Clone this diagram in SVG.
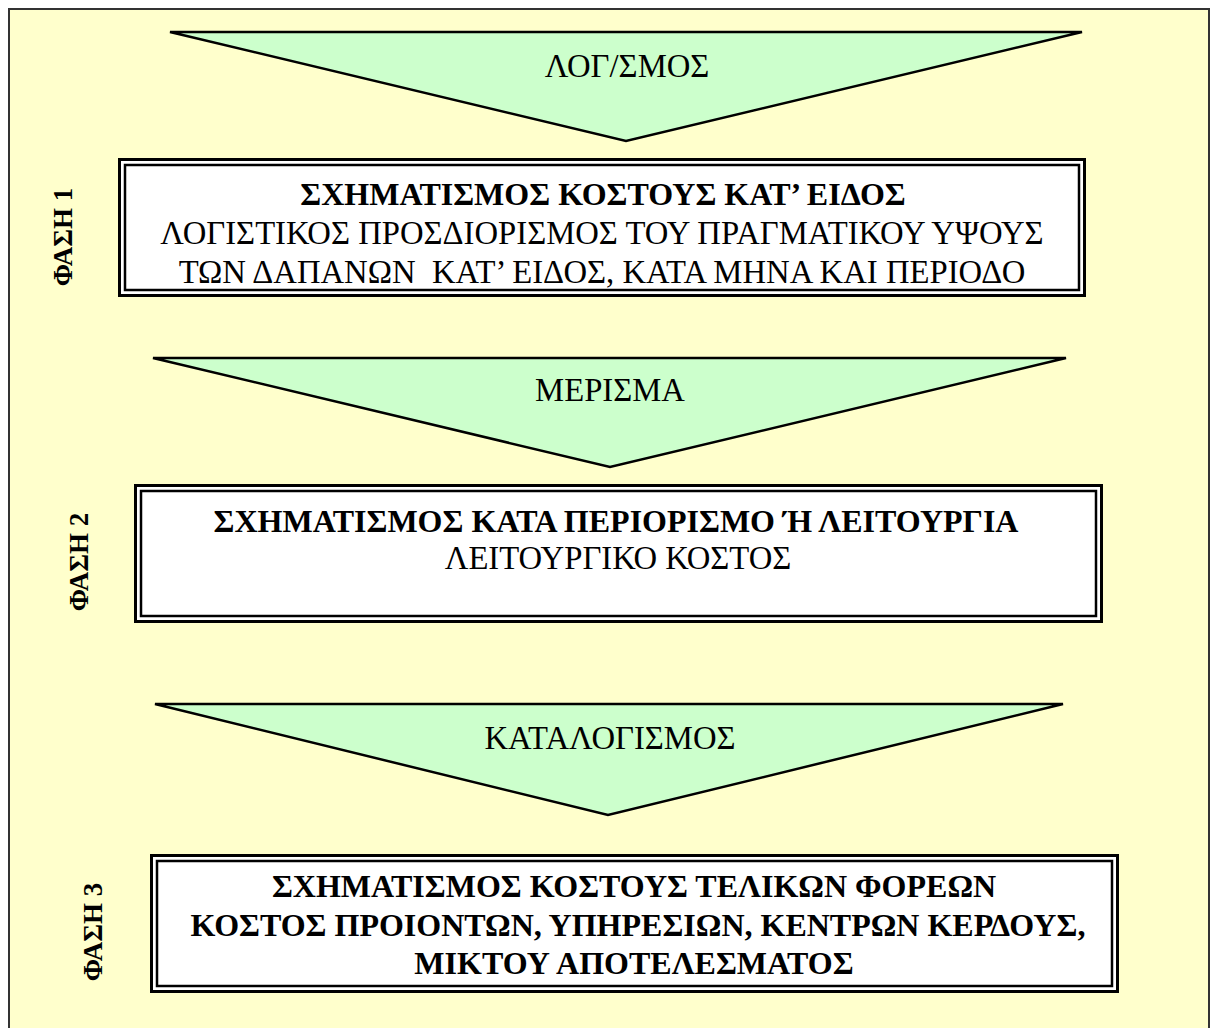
<svg xmlns="http://www.w3.org/2000/svg" width="1216" height="1028" viewBox="0 0 1216 1028">
<style>
.tri{fill:#CCFFCC;stroke:#000;stroke-width:2.5;stroke-linejoin:miter}
.bo{fill:#FFFFFF;stroke:#000;stroke-width:3}
.bi{fill:none;stroke:#000;stroke-width:2.5}
text{font-family:"Liberation Serif","Times New Roman",serif;fill:#000;text-anchor:middle}
.r{font-size:32.7px}
.b{font-size:32px;font-weight:bold}
.ph{font-size:27px;font-weight:bold}
</style>
<rect x="0" y="0" width="1216" height="1028" fill="#FFFFFF"/>
<rect id="frame" x="9" y="9" width="1200" height="1030" fill="#FFFFCC" stroke="#333" stroke-width="2"/>
<g id="connectors">
<g id="arrow1"><polygon class="tri" points="170,32 1082,32 626,141"/><text class="r" x="627" y="77">ΛΟΓ/ΣΜΟΣ</text></g>
<g id="arrow2"><polygon class="tri" points="153,358 1066,358 610,467"/><text class="r" x="610" y="401">ΜΕΡΙΣΜΑ</text></g>
<g id="arrow3"><polygon class="tri" points="155,704 1063,704 608,815"/><text class="r" x="610" y="749">ΚΑΤΑΛΟΓΙΣΜΟΣ</text></g>
</g>
<g id="phase1">
<rect class="bo" x="119.5" y="159.5" width="965" height="136"/>
<rect class="bi" x="125" y="165" width="954" height="125"/>
<text class="b" x="603" y="205">ΣΧΗΜΑΤΙΣΜΟΣ ΚΟΣΤΟΥΣ ΚΑΤ’ ΕΙΔΟΣ</text>
<text class="r" x="602" y="244">ΛΟΓΙΣΤΙΚΟΣ ΠΡΟΣΔΙΟΡΙΣΜΟΣ ΤΟΥ ΠΡΑΓΜΑΤΙΚΟΥ ΥΨΟΥΣ</text>
<text class="r" x="602" y="283" xml:space="preserve">ΤΩΝ ΔΑΠΑΝΩΝ  ΚΑΤ’ ΕΙΔΟΣ, ΚΑΤΑ ΜΗΝΑ ΚΑΙ ΠΕΡΙΟΔΟ</text>
<text class="ph" transform="translate(72,237) rotate(-90)">ΦΑΣΗ 1</text>
</g>
<g id="phase2">
<rect class="bo" x="135.5" y="485.5" width="966" height="136"/>
<rect class="bi" x="141" y="491" width="955" height="125"/>
<text class="b" x="616" y="532">ΣΧΗΜΑΤΙΣΜΟΣ ΚΑΤΑ ΠΕΡΙΟΡΙΣΜΟ Ή ΛΕΙΤΟΥΡΓΙΑ</text>
<text class="r" x="618" y="569">ΛΕΙΤΟΥΡΓΙΚΟ ΚΟΣΤΟΣ</text>
<text class="ph" transform="translate(88,562) rotate(-90)">ΦΑΣΗ 2</text>
</g>
<g id="phase3">
<rect class="bo" x="151.5" y="855.5" width="966" height="136"/>
<rect class="bi" x="157" y="861" width="955" height="125"/>
<text class="b" x="634" y="897">ΣΧΗΜΑΤΙΣΜΟΣ ΚΟΣΤΟΥΣ ΤΕΛΙΚΩΝ ΦΟΡΕΩΝ</text>
<text class="b" x="638" y="936">ΚΟΣΤΟΣ ΠΡΟΙΟΝΤΩΝ, ΥΠΗΡΕΣΙΩΝ, ΚΕΝΤΡΩΝ ΚΕΡΔΟΥΣ,</text>
<text class="b" x="634" y="974">ΜΙΚΤΟΥ ΑΠΟΤΕΛΕΣΜΑΤΟΣ</text>
<text class="ph" transform="translate(102,932) rotate(-90)">ΦΑΣΗ 3</text>
</g>
</svg>
